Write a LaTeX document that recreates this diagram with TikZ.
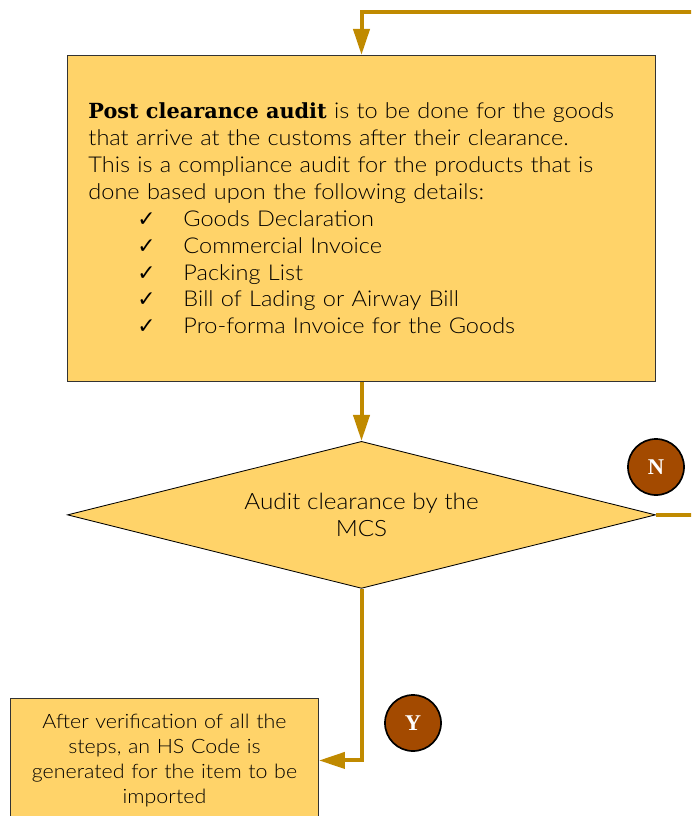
\documentclass[tikz,border=0pt]{standalone}
\usepackage{fontspec}
\setmainfont{Lato}[UprightFont=* Light, FakeStretch=1.08]
\newfontfamily\headfont{DejaVu Serif}
\newfontfamily\tagfont{Liberation Serif}
\newfontfamily\symfont{DejaVu Sans}
\usetikzlibrary{positioning,arrows.meta,shapes.geometric}

\definecolor{boxfill}{RGB}{255,211,105}
\definecolor{flow}{RGB}{192,138,0}
\definecolor{tag}{RGB}{163,74,0}

\newcommand{\chkline}[1]{\hspace*{1.225cm}\makebox[1.15cm][l]{\symfont ✓}#1}

\begin{document}
\begin{tikzpicture}[
  x=0.025cm, y=-0.025cm,
  box/.style={draw=black!80, fill=boxfill, line width=0.6pt},
  decide/.style={diamond, aspect=4, draw=black, fill=boxfill, line width=0.6pt, align=center, inner sep=0pt},
  arr/.style={-{Triangle[length=6.5mm,width=4mm]}, line width=1mm, draw=flow},
  tagdot/.style={circle, draw=black, line width=1.2pt, fill=tag, text=white, minimum size=1.4cm, inner sep=0pt, font=\tagfont\bfseries\fontsize{16}{18}\selectfont}]
  \clip (0,0) rectangle (691,816);
  \node[box, anchor=north west, minimum height=8.15cm, text width=13.65cm, inner xsep=0.525cm, align=left,
        font=\fontsize{15.5}{19.1}\selectfont] (audit) at (67,55)
    {{\headfont\bfseries\fontsize{14.8}{19.1}\selectfont Post clearance audit} is to be done for the goods\\
     that arrive at the customs after their clearance.\\
     This is a compliance audit for the products that is\\
     done based upon the following details:\\
     \chkline{Goods Declaration}\\
     \chkline{Commercial Invoice}\\
     \chkline{Packing List}\\
     \chkline{Bill of Lading or Airway Bill}\\
     \chkline{Pro-forma Invoice for the Goods}};
  \node[decide, below=1.475cm of audit, minimum width=14.7cm, minimum height=3.675cm,
        font=\fontsize{16}{19.1}\selectfont] (check) {Audit clearance by the\\MCS};
  \node[box, anchor=north west, minimum height=3.1cm, text width=7.4cm, inner xsep=0.15cm, align=center,
        font=\fontsize{14.1}{17.7}\selectfont] (hscode) at (10,698)
    {After verification of all the\\steps, an HS Code is\\generated for the item to be\\imported};
  \node[tagdot] (no) at (656,467) {N};
  \node[tagdot] (yes) at (413,723) {Y};
  \coordinate (back) at (720,12);
  \draw[arr] (audit) -- (check);
  \draw[arr] (check.south) |- (hscode.east);
  \draw[arr] (check.east) -| (back) -| (audit.north);
\end{tikzpicture}
\end{document}
